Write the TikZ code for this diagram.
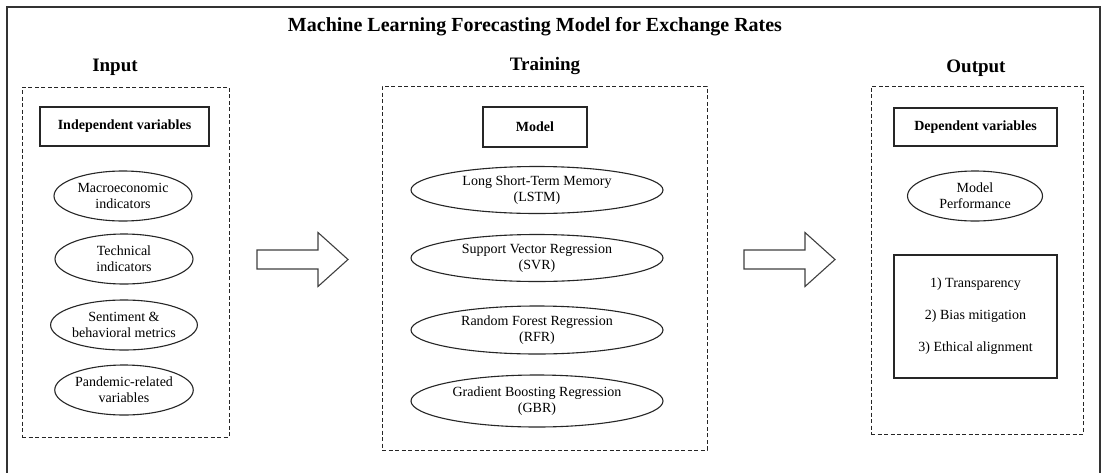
\documentclass[tikz,border=0pt]{standalone}
\usepackage{fontspec}
\setmainfont{Liberation Serif}
\usetikzlibrary{shapes.geometric}

\tikzset{
  heading/.style={font=\fontsize{19}{22}\selectfont\bfseries, inner sep=0pt},
  groupbox/.style={draw=black!85, line width=1pt, dash pattern=on 4pt off 2.5pt, inner sep=0pt},
  labelbox/.style={draw=black!85, line width=1.3pt, inner sep=0pt,
    font=\fontsize{14}{16}\selectfont\bfseries},
  oval/.style={ellipse, draw=black!85, line width=1.1pt, inner sep=0pt, align=center,
    font=\fontsize{14}{16}\selectfont},
  listbox/.style={draw=black!85, line width=1.3pt, inner sep=0pt, align=center,
    font=\fontsize{14}{32}\selectfont},
  blockarrow/.pic={
    \draw[black!75, line width=1.1pt, line join=miter, fill=white]
      (0,-9.5) -- (61,-9.5) -- (61,-27) -- (91,0) -- (61,27) -- (61,9.5) -- (0,9.5) -- cycle;
  }
}

\begin{document}
\begin{tikzpicture}[x=1pt, y=-1pt]
\useasboundingbox (0,0) rectangle (1103,472);
\clip (0,0) rectangle (1103,472);
\fill[white] (0,0) rectangle (1103,472);

% outer frame (its lower edge runs past the page)
\draw[black!80, line width=1.5pt] (7,7) rectangle (1100,490);

\node[font=\fontsize{20}{23}\selectfont\bfseries, inner sep=0pt] (title) at (535,27)
  {Machine Learning Forecasting Model for Exchange Rates};

% column headings
\node[heading] (hin)  at (115,67) {Input};
\node[heading] (htr)  at (545,66) {Training};
\node[heading] (hout) at (976,68) {Output};

% dashed group boxes
\node[groupbox, minimum width=207pt, minimum height=350pt] (inbox)  at (125.5,262) {};
\node[groupbox, minimum width=325pt, minimum height=364pt] (trbox)  at (544.5,268) {};
\node[groupbox, minimum width=212pt, minimum height=348pt] (outbox) at (977,260) {};

% input column
\node[labelbox, minimum width=169pt, minimum height=39pt] (ind) at (124.5,126.5) {Independent variables};
\node[oval, minimum width=138pt, minimum height=50pt] (macro) at (123,196) {Macroeconomic\\indicators};
\node[oval, minimum width=138pt, minimum height=50pt] (tech)  at (124,259) {Technical\\indicators};
\node[oval, minimum width=138pt, minimum height=50pt] (sent)  at (124,325) {Sentiment \&\\behavioral metrics};
\node[oval, minimum width=138pt, minimum height=50pt] (pand)  at (124,390) {Pandemic-related\\variables};

% training column
\node[labelbox, minimum width=104pt, minimum height=40pt] (model) at (535,127) {Model};
\node[oval, minimum width=252pt, minimum height=47pt] (lstm) at (537,190) {Long Short-Term Memory\\(LSTM)};
\node[oval, minimum width=252pt, minimum height=47pt] (svr)  at (537,258) {Support Vector Regression\\(SVR)};
\node[oval, minimum width=252pt, minimum height=48pt] (rfr)  at (537,330) {Random Forest Regression\\(RFR)};
\node[oval, minimum width=252pt, minimum height=52pt] (gbr)  at (537,401) {Gradient Boosting Regression\\(GBR)};

% output column
\node[labelbox, minimum width=163pt, minimum height=38pt] (dep) at (975.5,127) {Dependent variables};
\node[oval, minimum width=135pt, minimum height=50pt] (perf) at (975,196) {Model\\Performance};
\node[listbox, minimum width=163pt, minimum height=123pt] (ethics) at (975.5,316.5)
  {1) Transparency\\2) Bias mitigation\\3) Ethical alignment};

% flow arrows between the columns
\pic at (257,259.5) {blockarrow};
\pic at (744,259.5) {blockarrow};
\end{tikzpicture}
\end{document}
